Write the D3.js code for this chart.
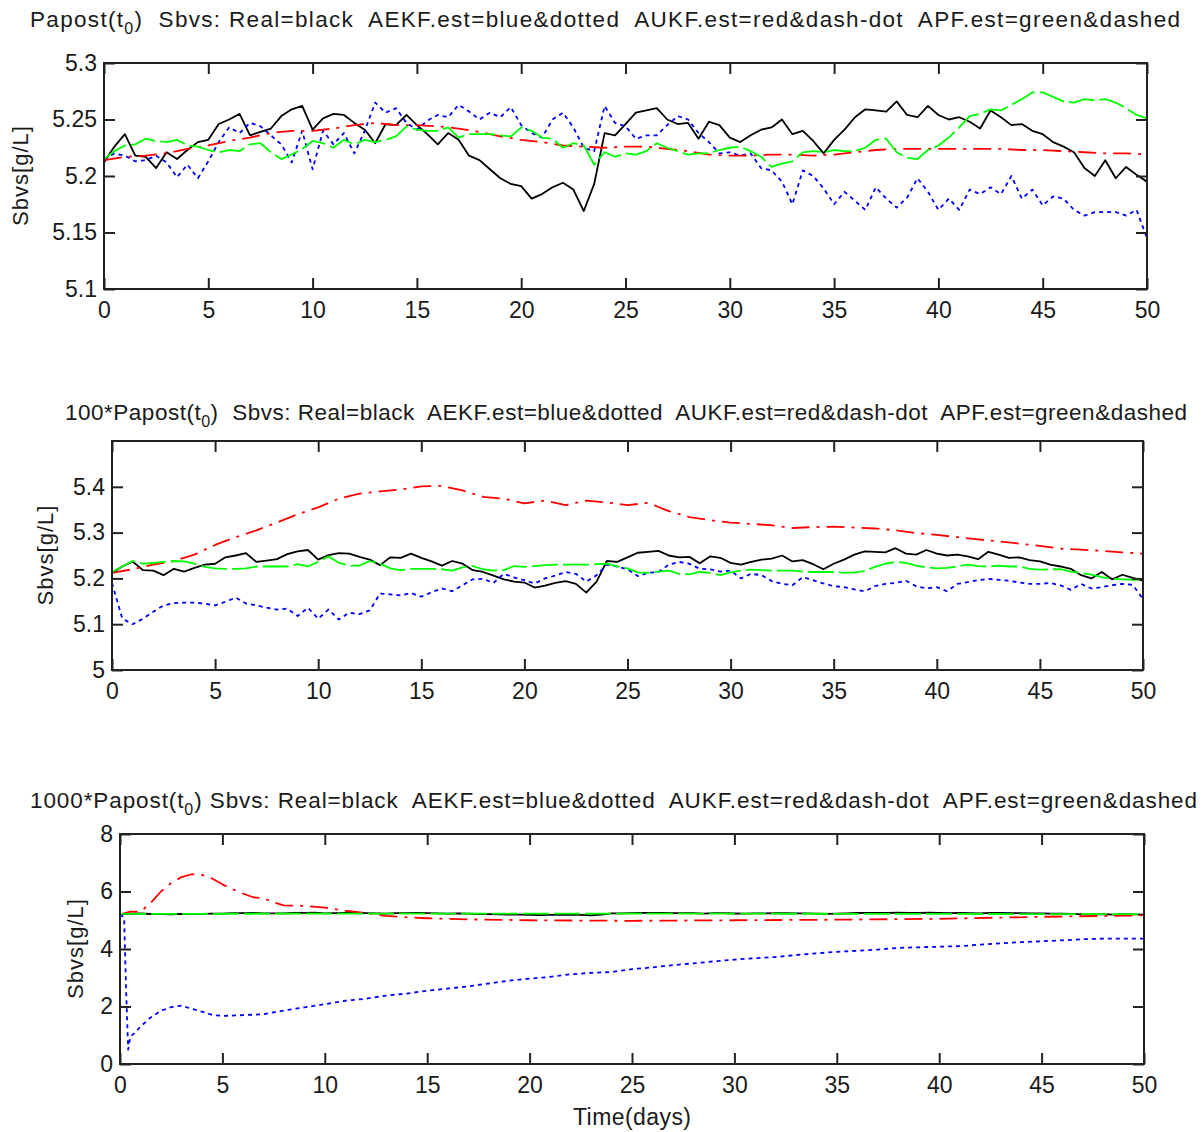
<!doctype html>
<html>
<head>
    <meta charset="utf-8">
    <title>Sbvs estimates</title>
    <style>
        body {
            margin: 0;
            background: #FFFFFF;
        }

        svg text {
            font-family: "Liberation Sans", Arial, sans-serif;
            fill: #1A1A1A;
            white-space: pre;
        }

        rect.box {
            fill: none;
            stroke: #222222;
            stroke-width: 2;
        }

        .axis line {
            stroke: #222222;
            stroke-width: 2;
        }

        path.series {
            fill: none;
            stroke-width: 1.8;
            stroke-linejoin: round;
        }
    </style>
</head>
<body>
    <div id="chart"></div>

    <script src="https://cdn.jsdelivr.net/npm/d3@7"></script>
    <script>
        // sampling grids (days)
        var halfDays = d3.range(0, 50.5, 0.5);
        var wholeDays = d3.range(0, 51, 1);

        var xTicks = [0, 5, 10, 15, 20, 25, 30, 35, 40, 45, 50];

        // real Sbvs, same run in every panel
        var realSbvs = [
            5.212, 5.226, 5.237, 5.218, 5.217, 5.207, 5.221, 5.215, 5.223, 5.230,
            5.232, 5.246, 5.250, 5.255, 5.236, 5.239, 5.242, 5.253, 5.259, 5.262,
            5.241, 5.251, 5.255, 5.254, 5.247, 5.241, 5.229, 5.246, 5.245, 5.254,
            5.245, 5.237, 5.228, 5.238, 5.232, 5.218, 5.214, 5.206, 5.198, 5.193,
            5.191, 5.180, 5.184, 5.190, 5.194, 5.188, 5.169, 5.193, 5.238, 5.236,
            5.246, 5.256, 5.258, 5.260, 5.250, 5.246, 5.247, 5.233, 5.248, 5.245,
            5.234, 5.230, 5.236, 5.241, 5.243, 5.250, 5.237, 5.240, 5.231, 5.220,
            5.232, 5.241, 5.252, 5.259, 5.258, 5.257, 5.266, 5.254, 5.252, 5.262,
            5.254, 5.250, 5.252, 5.248, 5.242, 5.258, 5.252, 5.245, 5.246, 5.240,
            5.237, 5.230, 5.226, 5.221, 5.207, 5.200, 5.214, 5.198, 5.208, 5.201,
            5.195
        ];

        // panel 1: Papost(t0)
        var aekf1 = [
            5.215, 5.220, 5.218, 5.213, 5.214, 5.218, 5.212, 5.199, 5.210, 5.198,
            5.213, 5.230, 5.243, 5.238, 5.247, 5.244, 5.236, 5.228, 5.212, 5.240,
            5.206, 5.240, 5.228, 5.238, 5.220, 5.240, 5.265, 5.256, 5.260, 5.247,
            5.241, 5.249, 5.254, 5.252, 5.263, 5.257, 5.250, 5.256, 5.252, 5.261,
            5.245, 5.238, 5.234, 5.250, 5.256, 5.243, 5.225, 5.222, 5.262, 5.247,
            5.244, 5.233, 5.236, 5.236, 5.245, 5.253, 5.250, 5.238, 5.230, 5.220,
            5.221, 5.218, 5.220, 5.207, 5.205, 5.195, 5.175, 5.205, 5.200, 5.189,
            5.175, 5.186, 5.178, 5.170, 5.190, 5.180, 5.172, 5.181, 5.198, 5.186,
            5.170, 5.180, 5.170, 5.188, 5.184, 5.190, 5.184, 5.200, 5.180, 5.188,
            5.174, 5.182, 5.180, 5.170, 5.165, 5.168, 5.168, 5.168, 5.165, 5.170,
            5.145
        ];
        var aukf1 = [
            5.214, 5.217, 5.218, 5.220, 5.224, 5.227, 5.231, 5.234, 5.238, 5.240,
            5.240, 5.242, 5.245, 5.247, 5.245, 5.245, 5.244, 5.242, 5.239, 5.235,
            5.232, 5.230, 5.227, 5.226, 5.225, 5.226, 5.226, 5.224, 5.222, 5.219,
            5.218, 5.218, 5.219, 5.219, 5.218, 5.219, 5.221, 5.223, 5.224, 5.224,
            5.224, 5.224, 5.224, 5.224, 5.223, 5.223, 5.222, 5.221, 5.220, 5.220,
            5.219
        ];
        var apf1 = [
            5.215, 5.222, 5.227, 5.228, 5.233, 5.231, 5.230, 5.232, 5.227, 5.226,
            5.223, 5.221, 5.223, 5.222, 5.228, 5.229, 5.221, 5.215, 5.219, 5.224,
            5.231, 5.229, 5.225, 5.232, 5.228, 5.232, 5.230, 5.232, 5.235, 5.244,
            5.241, 5.240, 5.240, 5.243, 5.234, 5.237, 5.237, 5.237, 5.236, 5.235,
            5.243, 5.240, 5.234, 5.233, 5.225, 5.229, 5.227, 5.210, 5.221, 5.217,
            5.220, 5.219, 5.222, 5.229, 5.225, 5.222, 5.219, 5.220, 5.220, 5.223,
            5.225, 5.226, 5.222, 5.217, 5.208, 5.211, 5.213, 5.221, 5.222, 5.221,
            5.223, 5.222, 5.222, 5.225, 5.232, 5.233, 5.221, 5.216, 5.215, 5.223,
            5.227, 5.234, 5.243, 5.253, 5.255, 5.259, 5.258, 5.263, 5.268, 5.274,
            5.274, 5.270, 5.266, 5.265, 5.268, 5.267, 5.268, 5.265, 5.260, 5.254,
            5.251
        ];

        // panel 2: 100*Papost(t0)
        var aekf2 = [
            5.190, 5.112, 5.100, 5.112, 5.127, 5.141, 5.146, 5.147, 5.147, 5.145,
            5.141, 5.149, 5.158, 5.145, 5.141, 5.136, 5.132, 5.134, 5.118, 5.136,
            5.112, 5.132, 5.110, 5.125, 5.122, 5.130, 5.167, 5.165, 5.163, 5.168,
            5.160, 5.170, 5.178, 5.172, 5.185, 5.198, 5.199, 5.190, 5.210, 5.202,
            5.196, 5.189, 5.200, 5.206, 5.214, 5.210, 5.193, 5.207, 5.230, 5.226,
            5.220, 5.205, 5.212, 5.214, 5.230, 5.236, 5.232, 5.221, 5.220, 5.215,
            5.217, 5.200, 5.210, 5.207, 5.194, 5.188, 5.185, 5.203, 5.196, 5.189,
            5.183, 5.181, 5.176, 5.172, 5.183, 5.188, 5.190, 5.195, 5.183, 5.178,
            5.181, 5.172, 5.188, 5.192, 5.196, 5.199, 5.197, 5.195, 5.191, 5.188,
            5.188, 5.190, 5.185, 5.175, 5.188, 5.178, 5.181, 5.185, 5.188, 5.186,
            5.155
        ];
        var aukf2 = [
            5.212, 5.220, 5.230, 5.238, 5.252, 5.273, 5.290, 5.305, 5.322, 5.340,
            5.355, 5.374, 5.385, 5.390, 5.394, 5.401, 5.402, 5.392, 5.378, 5.374,
            5.364, 5.370, 5.360, 5.370, 5.366, 5.360, 5.365, 5.347, 5.334, 5.327,
            5.322, 5.319, 5.316, 5.310, 5.312, 5.313, 5.311, 5.309, 5.305, 5.299,
            5.295, 5.290, 5.285, 5.281, 5.276, 5.271, 5.265, 5.263, 5.260, 5.257,
            5.254
        ];
        var apf2 = [
            5.214, 5.226, 5.238, 5.232, 5.234, 5.236, 5.238, 5.237, 5.232, 5.225,
            5.222, 5.221, 5.221, 5.222, 5.226, 5.226, 5.226, 5.226, 5.231, 5.226,
            5.236, 5.248, 5.234, 5.228, 5.228, 5.238, 5.232, 5.222, 5.218, 5.221,
            5.221, 5.221, 5.220, 5.217, 5.224, 5.227, 5.220, 5.217, 5.218, 5.227,
            5.225, 5.227, 5.229, 5.230, 5.230, 5.230, 5.230, 5.231, 5.232, 5.226,
            5.222, 5.213, 5.212, 5.215, 5.217, 5.210, 5.209, 5.214, 5.212, 5.207,
            5.213, 5.217, 5.219, 5.218, 5.217, 5.217, 5.217, 5.215, 5.214, 5.214,
            5.214, 5.212, 5.213, 5.216, 5.225, 5.232, 5.236, 5.234, 5.228, 5.224,
            5.222, 5.223, 5.226, 5.230, 5.227, 5.226, 5.228, 5.226, 5.226, 5.221,
            5.219, 5.220, 5.220, 5.215, 5.212, 5.208, 5.203, 5.199, 5.198, 5.197,
            5.197
        ];

        // panel 3: 1000*Papost(t0)
        var aekf3Days = [0, 0.2, 0.3, 0.4, 0.5, 0.75, 1, 1.5, 2, 2.5, 3, 3.5, 4, 4.5, 5,
            6, 7, 8, 9, 10, 11, 12, 13, 14, 15, 16, 17, 18, 19, 20, 21, 22, 23, 24, 25,
            26, 27, 28, 29, 30, 31, 32, 33, 34, 35, 36, 37, 38, 39, 40, 41, 42, 43, 44, 45,
            46, 47, 48, 49, 50];
        var aekf3 = [5.2, 5.1, 2.5, 0.5, 0.95, 1.1, 1.3, 1.62, 1.85, 1.98, 2.03, 1.92, 1.82, 1.71, 1.67,
            1.7, 1.73, 1.86, 1.97, 2.08, 2.2, 2.27, 2.38, 2.45, 2.55,
            2.62, 2.7, 2.8, 2.9, 2.97, 3.03, 3.12, 3.17, 3.2, 3.3,
            3.36, 3.44, 3.5, 3.57, 3.63, 3.68, 3.72, 3.79, 3.85, 3.9,
            3.94, 3.98, 4.04, 4.06, 4.08, 4.1, 4.15, 4.2, 4.24, 4.27,
            4.3, 4.34, 4.36, 4.36, 4.36];
        var aukf3Days = [0, 0.5, 1, 1.5, 2, 2.5, 3, 3.5, 4, 4.5, 5, 5.5, 6, 6.5, 7, 7.5, 8,
            9, 10, 11, 12, 13, 14, 15, 17, 20, 25, 30, 35, 40, 45, 50];
        var aukf3 = [5.2, 5.3, 5.3, 5.6, 6.0, 6.3, 6.5, 6.6, 6.58, 6.45, 6.25, 6.08, 5.93, 5.8, 5.77, 5.62, 5.52,
            5.5, 5.44, 5.33, 5.25, 5.15, 5.1, 5.07, 5.03, 5.0, 4.98, 5.0, 5.02, 5.05, 5.12, 5.17];
        var apf3Days = [0, 10, 20, 30, 40, 50];
        var apf3 = [5.22, 5.23, 5.23, 5.23, 5.22, 5.21];

        var titleTail = 'Sbvs: Real=black  AEKF.est=blue&dotted  AUKF.est=red&dash-dot  APF.est=green&dashed';

        var styles = {
            real: { color: '#000000', dash: null },
            aekf: { color: '#0000FF', dash: '4,4' },
            aukf: { color: '#FF0000', dash: '18,7,3,7' },
            apf: { color: '#00FF00', dash: '26,5' }
        };

        var panels = [
            {
                prefix: 'Papost(t', suffix: ')  ', titleX: 30, titleY: 27, titleLen: 1150,
                left: 104, right: 1147, top: 63, bottom: 289, labelX: 20,
                yDomain: [5.1, 5.3], yTicks: [5.1, 5.15, 5.2, 5.25, 5.3],
                series: [
                    { key: 'real', t: halfDays, v: realSbvs },
                    { key: 'aekf', t: halfDays, v: aekf1 },
                    { key: 'aukf', t: wholeDays, v: aukf1 },
                    { key: 'apf', t: halfDays, v: apf1 }
                ]
            },
            {
                prefix: '100*Papost(t', suffix: ')  ', titleX: 65, titleY: 420, titleLen: 1122,
                left: 112, right: 1143, top: 441, bottom: 670, labelX: 45,
                yDomain: [5, 5.5], yTicks: [5, 5.1, 5.2, 5.3, 5.4],
                series: [
                    { key: 'real', t: halfDays, v: realSbvs },
                    { key: 'aekf', t: halfDays, v: aekf2 },
                    { key: 'aukf', t: wholeDays, v: aukf2 },
                    { key: 'apf', t: halfDays, v: apf2 }
                ]
            },
            {
                prefix: '1000*Papost(t', suffix: ') ', titleX: 30, titleY: 808, titleLen: 1167,
                left: 120, right: 1144, top: 834, bottom: 1064, labelX: 75,
                yDomain: [0, 8], yTicks: [0, 2, 4, 6, 8],
                series: [
                    { key: 'real', t: halfDays, v: realSbvs },
                    { key: 'aekf', t: aekf3Days, v: aekf3 },
                    { key: 'aukf', t: aukf3Days, v: aukf3 },
                    { key: 'apf', t: apf3Days, v: apf3 }
                ]
            }
        ];

        var svg = d3.select('#chart').append('svg')
            .attr('width', 1204)
            .attr('height', 1132);

        panels.forEach(drawPanel);

        svg.append('text')
            .attr('x', 632)
            .attr('y', 1125)
            .attr('text-anchor', 'middle')
            .attr('textLength', 118)
            .style('font-size', '23px')
            .text('Time(days)');

        function drawPanel(p, i) {
            var x = d3.scaleLinear().domain([0, 50]).range([p.left, p.right]);
            var y = d3.scaleLinear().domain(p.yDomain).range([p.bottom, p.top]);

            var line = d3.line()
                .x(function(d) { return x(d[0]); })
                .y(function(d) { return y(d[1]); });

            svg.append('clipPath')
                .attr('id', 'clip' + i)
              .append('rect')
                .attr('x', p.left)
                .attr('y', p.top)
                .attr('width', p.right - p.left)
                .attr('height', p.bottom - p.top);

            var plot = svg.append('g').attr('clip-path', 'url(#clip' + i + ')');

            p.series.forEach(function(s) {
                plot.append('path')
                    .datum(d3.zip(s.t, s.v))
                    .attr('class', 'series')
                    .attr('stroke', styles[s.key].color)
                    .attr('stroke-dasharray', styles[s.key].dash)
                    .attr('d', line);
            });

            // ticks point inwards on all four sides, labels only bottom/left
            var bottom = svg.append('g')
                .attr('class', 'axis')
                .attr('transform', 'translate(0,' + p.bottom + ')')
                .call(d3.axisBottom(x).tickValues(xTicks).tickSize(-11).tickPadding(13));
            var top = svg.append('g')
                .attr('class', 'axis')
                .attr('transform', 'translate(0,' + p.top + ')')
                .call(d3.axisTop(x).tickValues(xTicks).tickSize(-11).tickFormat(''));
            var left = svg.append('g')
                .attr('class', 'axis')
                .attr('transform', 'translate(' + p.left + ',0)')
                .call(d3.axisLeft(y).tickValues(p.yTicks).tickSize(-11).tickPadding(7)
                    .tickFormat(function(d) { return String(d); }));
            var right = svg.append('g')
                .attr('class', 'axis')
                .attr('transform', 'translate(' + p.right + ',0)')
                .call(d3.axisRight(y).tickValues(p.yTicks).tickSize(-11).tickFormat(''));

            [bottom, top, left, right].forEach(function(a) {
                a.select('.domain').remove();
                a.selectAll('text')
                    .attr('fill', null)
                    .style('font-size', '23px');
            });

            svg.append('rect')
                .attr('class', 'box')
                .attr('x', p.left)
                .attr('y', p.top)
                .attr('width', p.right - p.left)
                .attr('height', p.bottom - p.top);

            var title = svg.append('text')
                .attr('x', p.titleX)
                .attr('y', p.titleY)
                .attr('textLength', p.titleLen)
                .attr('lengthAdjust', 'spacing')
                .style('font-size', '22.5px');
            title.append('tspan').text(p.prefix);
            title.append('tspan')
                .attr('dy', 7)
                .style('font-size', '16px')
                .text('0');
            title.append('tspan')
                .attr('dy', -7)
                .text(p.suffix + titleTail);

            svg.append('text')
                .attr('transform', 'translate(' + p.labelX + ',' + ((p.top + p.bottom) / 2) + ') rotate(-90)')
                .attr('text-anchor', 'middle')
                .attr('dy', '0.35em')
                .attr('textLength', 100)
                .style('font-size', '22px')
                .text('Sbvs[g/L]');
        }
    </script>
</body>
</html>
